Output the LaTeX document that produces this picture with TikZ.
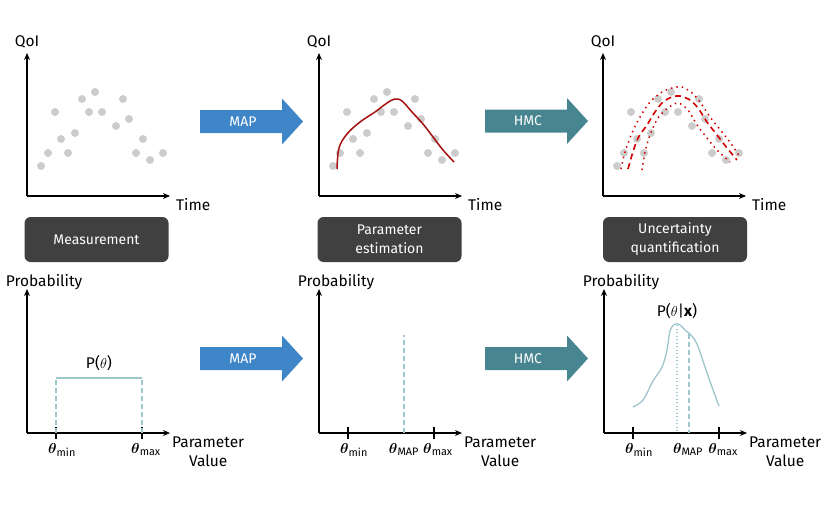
\documentclass[tikz,border=0pt]{standalone}
\usepackage{fontspec}
\setmainfont{Fira Sans}
\usepackage{amsmath}
\usetikzlibrary{arrows.meta}
\definecolor{mapblue}{HTML}{3F86C8}
\definecolor{hmcteal}{HTML}{478591}
\definecolor{boxgray}{HTML}{404040}
\definecolor{dotgray}{HTML}{CCCCCC}
\definecolor{fitred}{HTML}{A50F0F}
\definecolor{bandred}{HTML}{D40000}
\definecolor{pdfteal}{HTML}{9EC5CB}
\newcommand\flowarrow[5]{% name, left x, center y, color, text
  \fill[#4] (#2,#3-11.5) -- ++(82,0) -- ++(0,-11.5) -- ++(21,23) -- ++(-21,23) -- ++(0,-11.5) -- (#2,#3+11.5) -- cycle;
  \node[arrowtext] (#1) at (#2+43,#3) {#5};}
\newcommand\thsub[1]{$\boldsymbol{\theta}_{\text{#1}}$}
\begin{document}
\begin{tikzpicture}[x=1pt,y=-1pt,
  axis/.style={line width=1.4pt,-{Stealth[length=7pt,width=6pt]}},
  axlabel/.style={font=\fontsize{15.5}{18}\selectfont,inner sep=0pt},
  arrowtext/.style={text=white,font=\fontsize{14}{16}\selectfont,inner sep=0pt},
  stagebox/.style={fill=boxgray,rounded corners=6pt,minimum width=144pt,minimum height=45pt,text=white,align=center,font=\fontsize{14}{19}\selectfont},
  datadot/.style={fill=dotgray},
  tick/.style={line width=1.4pt},
  ticklabel/.style={font=\fontsize{15.5}{17}\selectfont,inner sep=0pt,anchor=base},
  pdfline/.style={pdfteal,line width=1.3pt},
  pdfdash/.style={pdfteal,line width=1.3pt,dash pattern=on 5pt off 3pt},
  pdfdot/.style={pdfteal,line width=1.3pt,dash pattern=on 1pt off 2.5pt},
]
\useasboundingbox (0,0) rectangle (830,514);
\def\ptlist{41/166,48/153,55/112,61/139,68/153,75/133,82/99,89/112,95/92,102/112,116/126,123/99,129/119,136/153,143/139,150/160,163/153}
% ---------- top plots ----------
\foreach \dx/\nm in {0/a,292/b,576/c}{
  \coordinate (o\nm) at (27+\dx,196);
  \draw[axis] (o\nm) -- ++(0,-143) coordinate (yt\nm);
  \draw[axis] (o\nm) -- ++(143,0) coordinate (xt\nm);
  \node[axlabel,anchor=south] (qoi\nm) at ([yshift=5pt]yt\nm) {QoI};
  \node[axlabel,anchor=west] (time\nm) at ([xshift=6pt,yshift=-9pt]xt\nm) {Time};
  \foreach \px/\py in \ptlist { \fill[datadot] (\px+\dx,\py) circle[radius=4pt]; }
}
% MAP fit
\draw[fitred,line width=1.5pt] plot[smooth,tension=0.6] coordinates {(337,169) (339,148) (347,134) (360,122) (375,112) (387,103) (395,99) (402,101) (412,112) (423,124) (433,137) (443,150) (454,162)};
% HMC band
\draw[bandred,line width=1.6pt,dash pattern=on 6pt off 4pt] plot[smooth] coordinates {(628,169)(632,155)(638,138)(647,125)(655,112)(663,102)(672,97)(680,96)(690,100)(698,108)(707,122)(717,135)(727,148)(737,160)};
\draw[bandred,line width=1.5pt,dash pattern=on 1.5pt off 4pt] plot[smooth] coordinates {(621,169)(625,152)(632,133)(640,117)(650,102)(662,92)(672,88)(682,87)(692,93)(700,102)(710,117)(722,132)(732,145)(740,157)};
\draw[bandred,line width=1.5pt,dash pattern=on 1.5pt off 4pt] plot[smooth] coordinates {(642,170)(645,152)(650,135)(658,118)(668,108)(678,103)(688,110)(697,125)(707,138)(717,150)(730,162)};
% arrows
\flowarrow{map1}{200}{121.5}{mapblue}{MAP}
\flowarrow{hmc1}{485}{121}{hmcteal}{HMC}
\flowarrow{map2}{200}{358.5}{mapblue}{MAP}
\flowarrow{hmc2}{485}{358.5}{hmcteal}{HMC}
% stage boxes
\node[stagebox] (meas) at (96.5,239.5) {Measurement};
\node[stagebox] (pest) at (389.5,239.5) {Parameter\\estimation};
\node[stagebox] (uq) at (675,239.5) {Uncertainty\\quantification};
% ---------- bottom plots ----------
\foreach \dx/\nm in {0/a,292/b,577/c}{
  \coordinate (p\nm) at (27+\dx,433);
  \draw[axis] (p\nm) -- ++(0,-144) coordinate (pyt\nm);
  \draw[axis] (p\nm) -- ++(143,0) coordinate (pxt\nm);
  \node[axlabel,anchor=south] (prob\nm) at ([xshift=17pt,yshift=-1pt]pyt\nm) {Probability};
  \node[axlabel,anchor=north west,align=center,font=\fontsize{15.5}{19}\selectfont] (pv\nm) at ([xshift=2pt,yshift=-4pt]pxt\nm) {Parameter\\Value};
  \draw[tick] (56+\dx,427) -- (56+\dx,439);
  \draw[tick] (142+\dx,427) -- (142+\dx,439);
  \node[ticklabel] (tmin\nm) at (62+\dx,453) {\thsub{min}};
  \node[ticklabel] (tmax\nm) at (146+\dx,453) {\thsub{max}};
}
% prior
\draw[pdfdash] (56,433) -- (56,378);
\draw[pdfdash] (142,433) -- (142,378);
\draw[pdfline] (56,378) -- (142,378);
\node[axlabel] (prior) at (99,363) {P($\theta$)};
% MAP
\draw[pdfdash] (404,433) -- (404,335);
\node[ticklabel] (tmapb) at (404,453) {\thsub{MAP}};
% posterior
\draw[pdfline] plot[smooth,tension=0.6] coordinates {(633,407)(643,400)(653,381)(662,367)(667,350)(670,331)(675,324)(680,325)(685,330)(690,334)(697,344)(705,367)(712,387)(719,406)};
\draw[pdfdot] (677,325) -- (677,433);
\draw[pdfdash] (689,334) -- (689,433);
\node[ticklabel] (tmapc) at (688,453) {\thsub{MAP}};
\node[axlabel] (post) at (677,311) {P($\theta$|\textbf{x})};
\end{tikzpicture}
\end{document}
